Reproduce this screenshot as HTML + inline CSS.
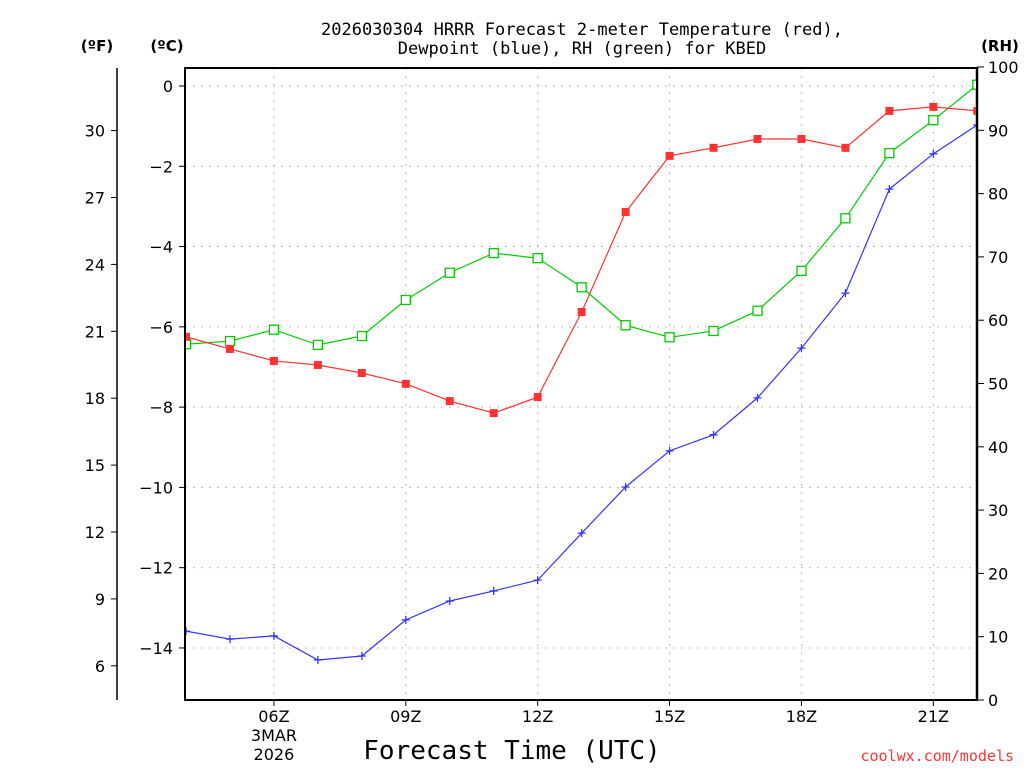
<!DOCTYPE html>
<html><head><meta charset="utf-8"><style>
body{margin:0;background:#fff;width:1024px;height:768px;overflow:hidden}
svg{font-family:"DejaVu Sans","Liberation Sans",sans-serif}
.mono{font-family:"DejaVu Sans Mono","Liberation Mono",monospace}
</style></head><body>
<svg id="chart" width="1024" height="768">
<text class="mono" x="582" y="35" font-size="17" text-anchor="middle">2026030304 HRRR Forecast 2-meter Temperature (red),</text>
<text class="mono" x="582" y="54" font-size="17" text-anchor="middle">Dewpoint (blue), RH (green) for KBED</text>
<text x="97" y="51" font-size="15" font-weight="bold" text-anchor="middle">(ºF)</text>
<text x="167" y="51" font-size="15" font-weight="bold" text-anchor="middle">(ºC)</text>
<text x="1000" y="51" font-size="15" font-weight="bold" text-anchor="middle">(RH)</text>
<text class="mono" x="512" y="759" font-size="26" text-anchor="middle">Forecast Time (UTC)</text>
<text class="mono" x="1014" y="761" font-size="15" fill="#ff3333" text-anchor="end">coolwx.com/models</text>
<g id="grid"></g><g id="axes"></g>
<defs><clipPath id="clip"><rect x="185" y="68" width="792" height="632"/></clipPath></defs>
<g id="series" clip-path="url(#clip)"></g>
<rect x="185" y="68" width="792" height="632" fill="none" stroke="#000" stroke-width="2"/>
</svg>
<script>
const hours=[4,5,6,7,8,9,10,11,12,13,14,15,16,17,18,19,20,21,22];
const tempC=[-6.25,-6.55,-6.85,-6.95,-7.15,-7.42,-7.85,-8.15,-7.75,-5.63,-3.14,-1.74,-1.54,-1.32,-1.32,-1.54,-0.62,-0.52,-0.62];
const dewC=[-13.58,-13.78,-13.7,-14.3,-14.2,-13.3,-12.83,-12.58,-12.31,-11.14,-9.99,-9.09,-8.69,-7.77,-6.53,-5.16,-2.57,-1.69,-0.97];
const rh=[56.2,56.7,58.5,56.1,57.5,63.2,67.5,70.6,69.8,65.2,59.2,57.3,58.3,61.5,67.8,76.1,86.4,91.6,97.2];
const cTicks=[0,-2,-4,-6,-8,-10,-12,-14];
const fTicks=[30,27,24,21,18,15,12,9,6];
const rhTicks=[0,10,20,30,40,50,60,70,80,90,100];
const xTickHours=[6,9,12,15,18,21];
const xTickLabels=["06Z","09Z","12Z","15Z","18Z","21Z"];
const NS="http://www.w3.org/2000/svg";
const xS=h=>186+(h-4)*43.96;
const yC=c=>86-c*40.14;
const yF=f=>yC((f-32)/1.8);
const yR=r=>700-r*6.33;
function mk(t,a,p){const e=document.createElementNS(NS,t);for(const k in a)e.setAttribute(k,a[k]);p.appendChild(e);return e;}
const grid=document.getElementById('grid'),axes=document.getElementById('axes'),ser=document.getElementById('series');
cTicks.forEach(c=>{const y=yC(c);
 const g=mk('line',{x1:185,x2:977,y1:y,y2:y,stroke:'#bbb','stroke-dasharray':'2 6'},grid);
 
 mk('line',{x1:179,x2:185,y1:y,y2:y,stroke:'#000'},axes);
 const t=mk('text',{x:173,y:y+6,'font-size':16,'text-anchor':'end'},axes);t.textContent=c===0?'0':'−'+Math.abs(c);
 });
xTickHours.forEach((h,i)=>{const x=xS(h);
 const g=mk('line',{x1:x,x2:x,y1:68,y2:700,stroke:'#bbb','stroke-dasharray':'2 6'},grid);
 
 mk('line',{x1:x,x2:x,y1:700,y2:706,stroke:'#000'},axes);
 const t=mk('text',{x:x,y:722,'font-size':16,'text-anchor':'middle'},axes);t.textContent=xTickLabels[i];
 });
const d1=mk('text',{x:xS(6),y:741,'font-size':16,'text-anchor':'middle'},axes);d1.textContent='3MAR';

const d2=mk('text',{x:xS(6),y:760,'font-size':16,'text-anchor':'middle'},axes);d2.textContent='2026';

const fl=mk('line',{x1:117,x2:117,y1:68,y2:700,stroke:'#000','stroke-width':1.5},axes);

fTicks.forEach(f=>{const y=yF(f);mk('line',{x1:111,x2:117,y1:y,y2:y,stroke:'#000'},axes);
 const t=mk('text',{x:105,y:y+6,'font-size':16,'text-anchor':'end'},axes);t.textContent=f;
 });
rhTicks.forEach(r=>{const y=yR(r);mk('line',{x1:977,x2:984,y1:y,y2:y,stroke:'#000'},axes);
 const t=mk('text',{x:988,y:y+6,'font-size':16},axes);t.textContent=r;
 });
function series(vals,yf,color,marker,name){
 const pts=vals.map((v,i)=>[xS(hours[i]),yf(v)]);
 const pl=mk('polyline',{points:pts.map(p=>p.join(',')).join(' '),fill:'none',stroke:color,'stroke-width':1.2},ser);
 
 pts.forEach(([x,y])=>{let m;
  if(marker==='fill')m=mk('rect',{x:x-4,y:y-4,width:8,height:8,fill:color},ser);
  else if(marker==='open')m=mk('rect',{x:x-4.5,y:y-4.5,width:9,height:9,fill:'#fff',stroke:color,'stroke-width':1.3},ser);
  else m=mk('path',{d:`M${x-4},${y}H${x+4}M${x},${y-4}V${y+4}`,stroke:color,'stroke-width':1.3},ser);
  });
}
series(rh,yR,'#00cc00','open','rh');
series(tempC,yC,'#ff3333','fill','temperature');
series(dewC,yC,'#3333ff','cross','dewpoint');
const ra=mk('line',{x1:977,x2:977,y1:67,y2:701,stroke:'#000','stroke-width':2.5},axes);

</script>
</body></html>
